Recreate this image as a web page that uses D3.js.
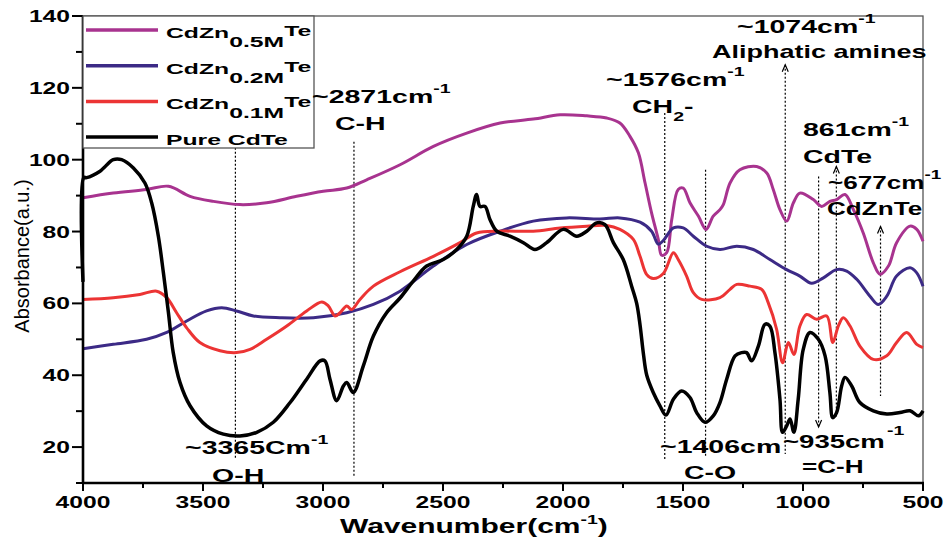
<!DOCTYPE html>
<html>
<head>
<meta charset="utf-8">
<script src="https://cdn.jsdelivr.net/npm/d3@7"></script>
<style>
  body { margin: 0; background: #fff; }
  svg { display: block; font-family: Arial, "Liberation Sans", sans-serif; }
</style>
</head>
<body>
<svg id="chart" width="946" height="538"></svg>
<script>
// FTIR spectra, [wavenumber, absorbance]
const pureCdTe = [[4000,66],[3997,95],[3985,95],[3929,96.8],[3874,100],[3839,100],[3790,97.7],[3742,93.5],[3714,88],[3686,78.7],[3665,68.5],[3644,57.4],[3624,46.3],[3596,38],[3554,31.5],[3485,25.9],[3415,23.6],[3346,23.1],[3276,24.1],[3207,26.9],[3137,32.4],[3068,38.9],[3012,44],[2992,44],[2971,38.9],[2943,32.9],[2915,37],[2901,38],[2874,35.2],[2832,42.6],[2790,50.9],[2735,57.4],[2679,61.5],[2624,66.2],[2568,70.4],[2499,72.2],[2443,75],[2401,78.7],[2374,87],[2360,90.3],[2346,87],[2325,87],[2304,83.3],[2276,80.1],[2221,78.7],[2165,76.9],[2117,75],[2068,76.9],[1999,80.6],[1943,78.7],[1901,80.1],[1860,82.4],[1825,81.9],[1790,76.9],[1749,72.2],[1714,64.8],[1693,60],[1679,54],[1665,46],[1651,40],[1624,35.2],[1596,31.5],[1571,28.9],[1540,33.3],[1506,35.6],[1471,33.8],[1443,29.6],[1408,26.9],[1374,28.7],[1346,32.4],[1318,38.9],[1283,45.4],[1256,46.3],[1235,46.3],[1214,44],[1186,48.1],[1158,54.2],[1138,53.7],[1117,46.3],[1096,33.3],[1085,24.1],[1068,25.9],[1054,27.8],[1038,24.1],[1020,33.3],[999,47.2],[971,51.9],[936,50],[908,45.4],[888,35.2],[876,28.2],[860,29.6],[839,37],[825,39.4],[797,37],[763,32.4],[707,30.1],[651,29.2],[596,29.6],[554,30.1],[519,28.7],[500,30.1]];

const cdzn05 = [[4000,89.4],[3874,90.7],[3735,91.7],[3644,92.6],[3554,89.8],[3457,88.4],[3346,87.5],[3235,88],[3110,89.8],[2999,91.2],[2901,92.1],[2818,94.4],[2679,98.6],[2540,103.7],[2401,107.4],[2262,110.2],[2124,111.3],[2012,112.5],[1901,112.2],[1818,111.6],[1763,110.2],[1721,106.5],[1686,101.9],[1658,93.5],[1631,85.2],[1603,77.8],[1589,73.4],[1568,74.1],[1547,83.3],[1520,91.7],[1499,92.1],[1471,88],[1436,84.3],[1404,80.6],[1374,84.3],[1346,86.1],[1332,87.5],[1304,93.5],[1263,97.2],[1193,98.1],[1151,96.3],[1124,91.7],[1096,86.1],[1068,82.9],[1040,88],[1013,90.7],[957,88.9],[922,87],[888,88.4],[860,88.9],[825,90.3],[790,86.1],[749,79.6],[707,71.3],[679,68.1],[644,70.4],[610,76.9],[554,81.5],[526,80.6],[500,77.3]];

const cdzn02 = [[4000,47.4],[3874,48.6],[3735,50],[3651,51.9],[3568,55.1],[3485,57.9],[3422,58.8],[3360,57.9],[3290,56.5],[3179,56],[3040,56],[2901,57.4],[2790,59.7],[2679,63.4],[2540,70.4],[2401,76.4],[2262,80.1],[2124,82.9],[1985,83.8],[1846,83.5],[1763,83.8],[1679,82.6],[1631,80.1],[1603,76.5],[1582,77.5],[1540,81],[1499,81],[1457,78.7],[1401,75.9],[1346,75],[1276,75.9],[1207,75],[1138,72.2],[1068,69.4],[1013,67.6],[964,65.6],[915,67.1],[860,69.4],[818,69],[776,66.7],[721,62],[686,59.7],[651,62],[610,67.6],[554,69.9],[526,68.5],[500,64.8]];

const cdzn01 = [[4000,61.1],[3874,61.6],[3763,62.5],[3693,63.4],[3651,61.6],[3610,57.4],[3568,53.2],[3513,49.1],[3429,46.8],[3360,46.3],[3304,47.2],[3235,50],[3151,53.7],[3068,57.9],[3005,60.4],[2978,59.3],[2950,56.5],[2929,57.4],[2901,59.3],[2881,58.3],[2846,61.1],[2790,64.8],[2679,68.8],[2540,73.1],[2429,76.9],[2360,79.6],[2262,80.1],[2124,80.1],[2012,81],[1901,81.5],[1818,81.7],[1763,80.6],[1707,77.8],[1679,73.1],[1651,68],[1624,66.9],[1582,68.3],[1540,74.1],[1520,72.2],[1485,67.6],[1457,63],[1422,61.1],[1346,61.6],[1304,63.9],[1276,65.3],[1221,64.8],[1172,63.9],[1145,60.2],[1110,52.8],[1085,43.5],[1061,49.1],[1038,45.8],[1013,53.7],[985,56.9],[943,55.6],[901,56.5],[876,49.1],[853,53.7],[832,56],[804,53.7],[763,48.1],[707,44.4],[651,45.4],[610,49.1],[568,51.9],[526,48.6],[500,47.7]];

const xTicks = [4000, 3500, 3000, 2500, 2000, 1500, 1000, 500];
const yTicks = [20, 40, 60, 80, 100, 120, 140];

// series drawn back to front, legend listed top to bottom
const series = [
  { name: ["CdZn", "0.5M", "Te"], data: cdzn05, color: "#a8338f", w: 3 },
  { name: ["CdZn", "0.2M", "Te"], data: cdzn02, color: "#3c2a86", w: 3 },
  { name: ["CdZn", "0.1M", "Te"], data: cdzn01, color: "#ec3434", w: 3 },
  { name: ["Pure CdTe"], data: pureCdTe, color: "#000", w: 3.5 }
];

// marker lines: wavenumber, top / bottom in absorbance units, arrow
const markers = [
  { wn: 3365, y0: 108.9, y1: 16.7 },
  { wn: 2871, y0: 105, y1: 11.7 },
  { wn: 1576, y0: 113, y1: 16.7 },
  { wn: 1406, y0: 97.2, y1: 17.2 },
  { wn: 1074, y0: 126.4, y1: 18.1, arrow: "up" },
  { wn: 935, y0: 95.3, y1: 25.6, arrow: "down" },
  { wn: 861, y0: 98.1, y1: 28.3, arrow: "up" },
  { wn: 677, y0: 81.4, y1: 34.2, arrow: "up" }
];

const svg = d3.select("#chart");
const mLeft = 83, mRight = 923, mTop = 16, mBottom = 483;

const x = d3.scaleLinear().domain([4000, 500]).range([mLeft, mRight]);
const y = d3.scaleLinear().domain([10, 140]).range([mBottom, mTop]);

svg.append("rect").attr("width", 946).attr("height", 538).attr("fill", "#fff");

// text with the wide look of the original (image was stretched sideways)
function label(px, py, parts, size, sx) {
  const t = svg.append("text")
    .attr("transform", `translate(${px},${py}) scale(${sx},1)`)
    .attr("font-size", size)
    .attr("font-weight", "bold");
  parts.forEach(p => {
    const s = t.append("tspan").text(p.t);
    if (p.dy) s.attr("dy", p.dy);
    if (p.size) s.attr("font-size", p.size);
  });
  return t;
}

// frame
svg.append("rect")
  .attr("x", mLeft).attr("y", mTop)
  .attr("width", mRight - mLeft).attr("height", mBottom - mTop)
  .attr("fill", "none").attr("stroke", "#555").attr("stroke-width", 1.3);

// markers
const mk = svg.append("g").attr("stroke", "#000").attr("fill", "none");
markers.forEach(m => {
  const px = x(m.wn);
  mk.append("line")
    .attr("x1", px).attr("x2", px)
    .attr("y1", y(m.y0)).attr("y2", y(m.y1))
    .attr("stroke-width", 1.2)
    .attr("stroke-dasharray", "2,2");
  if (m.arrow === "up") {
    const py = y(m.y0);
    mk.append("path").attr("d", `M${px - 3},${py + 7}L${px},${py}L${px + 3},${py + 7}`).attr("stroke-width", 1.2);
  } else if (m.arrow === "down") {
    const py = y(m.y1);
    mk.append("path").attr("d", `M${px - 3},${py - 7}L${px},${py}L${px + 3},${py - 7}`).attr("stroke-width", 1.2);
  }
});

// spectra
const line = d3.line()
  .x(d => x(d[0]))
  .y(d => y(d[1]))
  .curve(d3.curveCatmullRom.alpha(0.5));

svg.append("g")
  .selectAll("path")
  .data(series)
  .join("path")
  .attr("fill", "none")
  .attr("stroke", d => d.color)
  .attr("stroke-width", d => d.w)
  .attr("stroke-linejoin", "round")
  .attr("d", d => line(d.data));

// axes
const axes = svg.append("g").attr("stroke", "#000");
axes.append("line").attr("x1", mLeft).attr("x2", mRight + 1).attr("y1", mBottom).attr("y2", mBottom).attr("stroke-width", 2.6);
axes.append("line").attr("x1", mLeft).attr("x2", mLeft).attr("y1", mTop).attr("y2", mBottom + 1).attr("stroke-width", 2.6);

d3.range(4000, 499, -250).forEach(v => {
  const major = v % 500 === 0;
  axes.append("line")
    .attr("x1", x(v)).attr("x2", x(v))
    .attr("y1", mBottom).attr("y2", mBottom + (major ? 8 : 5))
    .attr("stroke-width", 2);
});
d3.range(10, 141, 10).forEach(v => {
  const major = v % 20 === 0;
  axes.append("line")
    .attr("x1", mLeft).attr("x2", mLeft - (major ? 11 : 7))
    .attr("y1", y(v)).attr("y2", y(v))
    .attr("stroke-width", 2);
});

xTicks.forEach(v => {
  label(x(v), 508, [{ t: String(v) }], 17, 1.45).attr("text-anchor", "middle");
});
yTicks.forEach(v => {
  label(70, y(v) + 6, [{ t: String(v) }], 17, 1.45).attr("text-anchor", "end");
});

// axis titles
label(340, 533, [{ t: "Wavenumber(cm" }, { t: "-1", size: 13, dy: -9 }, { t: ")", dy: 9 }], 20, 1.5);
svg.append("text")
  .attr("transform", "translate(29,256) rotate(-90)")
  .attr("text-anchor", "middle")
  .attr("font-size", 20)
  .text("Absorbance(a.u.)");

// legend
const lg = svg.append("g");
lg.append("rect")
  .attr("x", mLeft).attr("y", mTop)
  .attr("width", 231).attr("height", 132)
  .attr("fill", "#fff").attr("stroke", "#555").attr("stroke-width", 1.3);
series.forEach((s, i) => {
  const ly = 30 + i * 35.7;
  lg.append("line")
    .attr("x1", 86).attr("x2", 158)
    .attr("y1", ly).attr("y2", ly)
    .attr("stroke", s.color).attr("stroke-width", 3.5);
  const parts = s.name.length === 3
    ? [{ t: s.name[0] }, { t: s.name[1], dy: 9 }, { t: s.name[2], dy: -11 }]
    : [{ t: s.name[0] }];
  label(166, ly + 8, parts, 15, 1.65);
});

// peak annotations
const sup = t => ({ t, size: 13, dy: -10 });
label(312, 103, [{ t: "~2871cm" }, sup("-1")], 19, 1.5);
label(335, 130, [{ t: "C-H" }], 19, 1.5);
label(185, 454, [{ t: "~3365Cm" }, sup("-1")], 19, 1.5);
label(212, 482, [{ t: "O-H" }], 19, 1.5);
label(606, 86, [{ t: "~1576cm" }, sup("-1")], 19, 1.5);
label(632, 113, [{ t: "CH" }, { t: "2", size: 13, dy: 8 }, { t: "-", dy: -8 }], 19, 1.5);
label(737, 33, [{ t: "~1074cm" }, sup("-1")], 19, 1.5);
label(712, 58, [{ t: "Aliphatic amines" }], 18, 1.5);
label(803, 136, [{ t: "861cm" }, sup("-1")], 19, 1.5);
label(803, 163, [{ t: "CdTe" }], 19, 1.5);
label(828, 189, [{ t: "~677cm" }, sup("-1")], 18, 1.45);
label(827, 215, [{ t: "CdZnTe" }], 18, 1.45);
label(660, 453, [{ t: "~1406cm" }], 19, 1.5);
label(684, 479, [{ t: "C-O" }], 19, 1.5);
label(783, 448, [{ t: "~935cm" }], 19, 1.45);
label(887, 435, [{ t: "-1" }], 13, 1.5);
label(802, 473, [{ t: "=C-H" }], 18, 1.45);
</script>
</body>
</html>
